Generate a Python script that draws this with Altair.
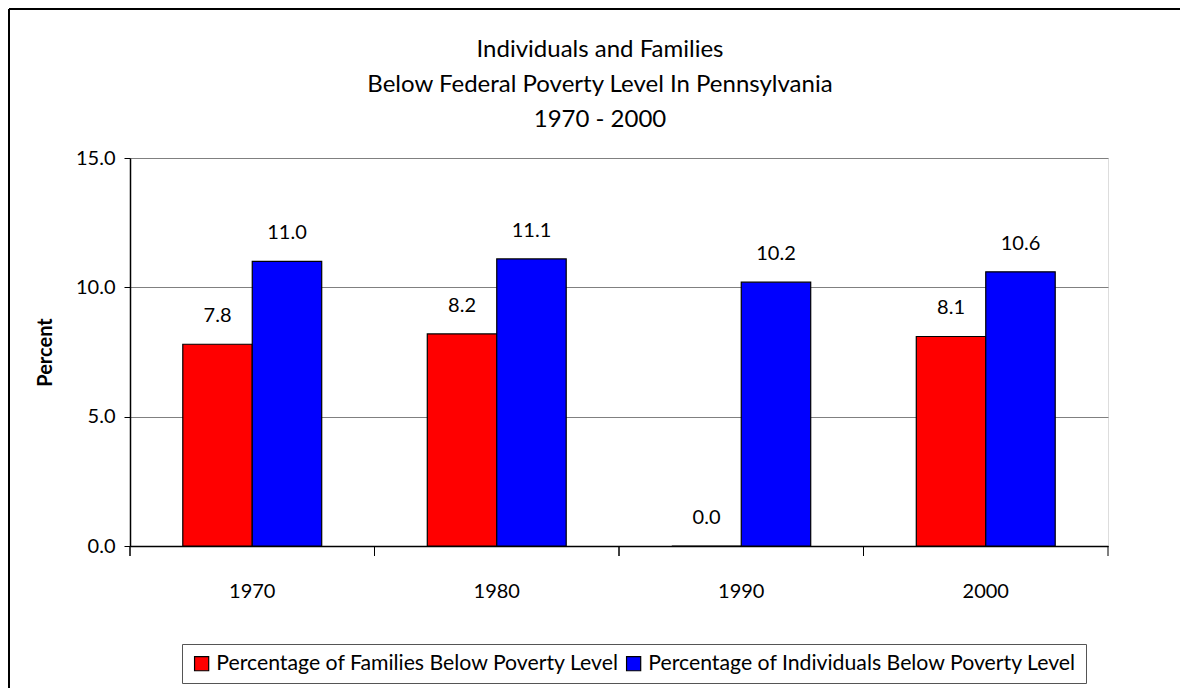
import altair as alt
import pandas as pd

years = ["1970", "1980", "1990", "2000"]
series = ["Percentage of Families Below Poverty Level",
          "Percentage of Individuals Below Poverty Level"]
families = [7.8, 8.2, 0.0, 8.1]
individuals = [11.0, 11.1, 10.2, 10.6]
colors = ["#FF0000", "#0000FF"]
title_lines = ["Individuals and Families",
               "Below Federal Poverty Level In Pennsylvania",
               "1970 - 2000"]
y_ticks = [0, 5, 10, 15]

rows = []
for i, y in enumerate(years):
    rows.append({"year": y, "series": series[0], "value": families[i]})
    rows.append({"year": y, "series": series[1], "value": individuals[i]})
df = pd.DataFrame(rows)

FONT = "Lato"
W, H = 978, 388

x_enc = alt.X("year:N", sort=years,
              scale=alt.Scale(paddingInner=0, paddingOuter=0),
              axis=alt.Axis(title=None, ticks=False, labelAngle=0, labelPadding=35,
                            labelFontSize=20, labelFont=FONT, labelColor="black",
                            domainColor="black", domainWidth=1.5))
xoff = alt.XOffset("series:N", sort=series,
                   scale=alt.Scale(paddingOuter=0.76, paddingInner=0))
y_enc = alt.Y("value:Q", scale=alt.Scale(domain=[0, 15], nice=False),
              axis=alt.Axis(title="Percent", values=y_ticks, format=".1f",
                            titleFont=FONT, titleFontSize=20, titleFontWeight="bold",
                            titleColor="black", titlePadding=20,
                            labelFont=FONT, labelFontSize=20, labelColor="black",
                            labelPadding=9, tickSize=6, tickColor="black",
                            domainColor="black", domainWidth=1.5,
                            grid=True, gridColor="#808080", gridWidth=1))

base = alt.Chart(df)

bars = base.mark_bar(stroke="black", strokeWidth=1.2).encode(
    x=x_enc, xOffset=xoff, y=y_enc,
    color=alt.Color("series:N", sort=series,
                    scale=alt.Scale(domain=series, range=colors),
                    legend=alt.Legend(title=None, orient="none", direction="horizontal",
                                      legendX=52, legendY=486,
                                      symbolType="square", symbolSize=200,
                                      symbolStrokeColor="black", symbolStrokeWidth=1.2,
                                      symbolOpacity=1,
                                      labelFont=FONT, labelFontSize=21.25, labelColor="black",
                                      labelLimit=700, columnPadding=3,
                                      strokeColor="#555555", padding=9,
                                      fillColor="white")),
)

labels = base.mark_text(font=FONT, fontSize=20, color="black",
                        baseline="alphabetic", dy=-22).encode(
    x=alt.X("year:N", sort=years), xOffset=alt.XOffset("series:N", sort=series),
    y="value:Q", text=alt.Text("value:Q", format=".1f"))

xticks = base.mark_rule(color="black", strokeWidth=1).encode(
    x=alt.X("year:N", sort=years, bandPosition=0),
    y=alt.value(H), y2=alt.value(H + 10))

one = pd.DataFrame({"k": [0]})
last_tick = alt.Chart(one).mark_rule(color="black", strokeWidth=1).encode(
    x=alt.value(W), y=alt.value(H), y2=alt.value(H + 10))

frame_left = alt.Chart(one).mark_rule(color="black", strokeWidth=2).encode(
    x=alt.value(-121), y=alt.value(-149), y2=alt.value(700))
frame_top = alt.Chart(one).mark_rule(color="black", strokeWidth=2).encode(
    x=alt.value(-121), x2=alt.value(1200), y=alt.value(-149))

title = alt.Chart(one).mark_text(font=FONT, fontSize=24, color="black", align="center",
                                 baseline="alphabetic", lineHeight=35).encode(
    x=alt.value(470), y=alt.value(-101), text=alt.value(title_lines))

chart = alt.layer(frame_left, frame_top, title, bars, labels, xticks, last_tick).properties(
    width=W, height=H,
    autosize=alt.AutoSizeParams(type="none"),
    padding={"left": 122, "top": 150, "right": 72, "bottom": 142},
).configure_view(stroke="#808080", strokeWidth=1.5).configure(background="white")

chart.save("out.html", embed_options={"renderer": "svg", "actions": False})
